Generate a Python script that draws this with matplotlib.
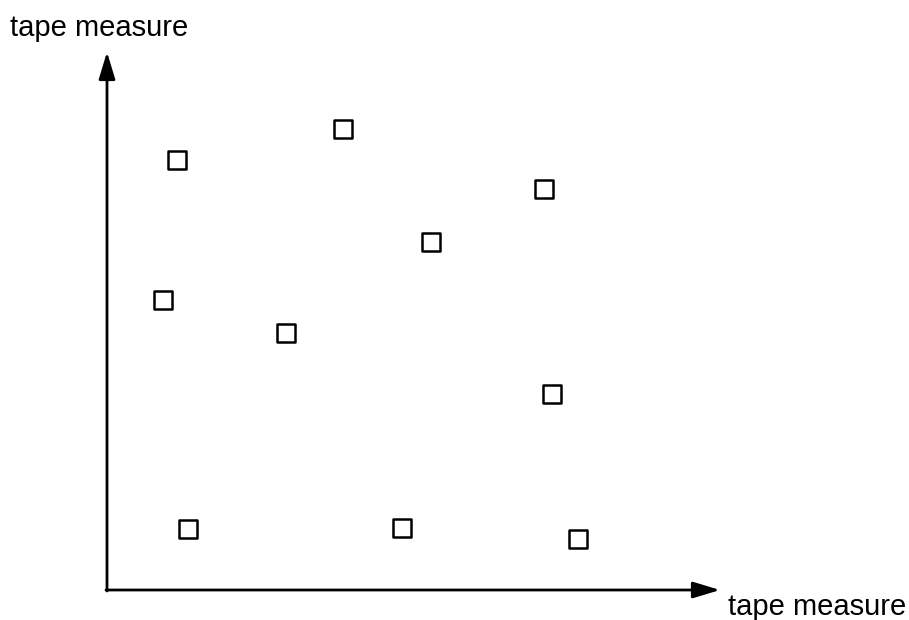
import matplotlib
matplotlib.use("Agg")
import matplotlib.pyplot as plt

plt.rcParams['font.family'] = ['Liberation Sans', 'DejaVu Sans']

# point positions, measured from the axis origin
x = [70, 236, 437, 324, 56, 179, 445, 81, 295, 471]
y = [430, 461, 401, 348, 290, 257, 196, 61, 62, 51]
x_label = "tape measure"
y_label = "tape measure"

fig = plt.figure(figsize=(9.09, 6.20), dpi=100)
ax = fig.add_axes([0, 0, 1, 1])
ax.set_xlim(-107, 802)
ax.set_ylim(-30, 590)
ax.axis('off')

arrow = dict(arrowstyle='-|>,head_length=1.65,head_width=0.5', color='black',
             lw=2, shrinkA=0, shrinkB=0)
ax.annotate('', xy=(613, 0), xytext=(-1, 0), arrowprops=arrow)
ax.annotate('', xy=(0, 538), xytext=(0, -1), arrowprops=arrow)

ax.scatter(x, y, marker='s', s=150, facecolors='none', edgecolors='black',
           linewidths=1.8)

ax.text(-97, 562, y_label, fontsize=21, ha='left', va='center')
ax.text(621, -17, x_label, fontsize=21, ha='left', va='center')

fig.savefig('out.png', dpi=100)
